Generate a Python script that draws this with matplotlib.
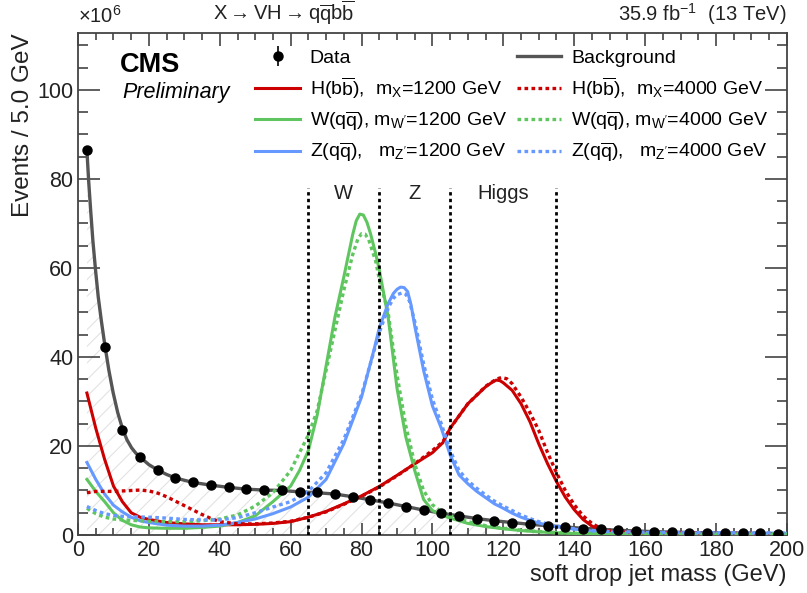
import numpy as np
import matplotlib
matplotlib.use("Agg")
import matplotlib.pyplot as plt
from matplotlib.ticker import MultipleLocator

plt.rcParams['font.family'] = ['Liberation Sans', 'DejaVu Sans']
plt.rcParams['mathtext.fontset'] = 'custom'
plt.rcParams['mathtext.rm'] = 'Liberation Sans'
plt.rcParams['mathtext.it'] = 'Liberation Sans:italic'
plt.rcParams['mathtext.bf'] = 'Liberation Sans:bold'
plt.rcParams['hatch.linewidth'] = 0.8

# ---- data (events in units of 10^6) ----
data_mass = np.arange(2.5, 200, 5.0)
data_events = [86.5, 42.3, 23.6, 17.6, 14.6, 12.7, 11.8, 11.2, 10.7, 10.3,
               10.1, 10.0, 9.7, 9.6, 9.2, 8.6, 7.9, 7.3, 6.4, 5.6,
               4.9, 4.3, 3.7, 3.2, 2.8, 2.4, 2.1, 1.9, 1.4, 1.3,
               1.05, 0.9, 0.75, 0.65, 0.55, 0.5, 0.45, 0.4, 0.35, 0.3]

bkg_mass = [2.5, 3.0, 3.6, 4.2, 5.0, 5.7, 6.6, 7.5, 8.7, 9.9, 11.2, 12.5, 13.8,
            15.1, 16.3, 17.5, 20.0, 22.5, 25.0, 27.5, 30.0, 32.5, 37.5,
            42.5, 47.5, 52.5, 57.5, 62.5, 67.5, 72.5, 77.5, 82.5, 87.5, 92.5,
            97.5, 102.5, 107.5, 112.5, 117.5, 122.5, 127.5, 132.5, 137.5, 142.5,
            147.5, 152.5, 157.5, 162.5, 167.5, 172.5, 177.5, 182.5, 187.5, 192.5, 197.5]
bkg_events = [86.5, 79.5, 72.5, 66.0, 59.0, 53.5, 48.0, 43.0, 37.0, 32.0, 27.5, 24.0,
              21.4, 19.6, 18.4, 17.5, 15.8, 14.6, 13.6, 12.8, 12.3, 11.8, 11.2,
              10.7, 10.3, 10.1, 10.0, 9.7, 9.5, 9.2, 8.6, 7.9, 7.2, 6.4,
              5.6, 4.9, 4.3, 3.7, 3.2, 2.8, 2.4, 2.1, 1.8, 1.5,
              1.3, 1.05, 0.9, 0.75, 0.65, 0.55, 0.5, 0.45, 0.4, 0.35, 0.3]

h1200_mass = [2.5, 5, 7.5, 10, 12.5, 15, 17.5, 20, 25, 30, 35, 40, 45, 50, 55, 60, 65,
              70, 75, 80, 85, 90, 95, 100, 103, 105, 110, 115, 117, 118, 119, 120,
              122.5, 125, 127.5, 130, 132.5, 135, 137.5, 140, 142.5, 145, 147.5, 150,
              155, 160, 170, 180, 190, 197.5]
h1200_events = [31.9, 24.0, 17.0, 11.0, 7.5, 5.0, 4.0, 3.5, 2.8, 2.5, 2.3, 2.3, 2.3,
                2.4, 2.6, 3.0, 4.0, 5.3, 7.0, 8.8, 10.9, 13.4, 16.0, 18.5, 20.8, 24.0,
                29.5, 33.3, 34.4, 34.8, 34.7, 34.2, 32.5, 29.5, 25.5, 20.5, 16.0, 12.0,
                8.5, 5.7, 3.5, 2.0, 1.2, 0.8, 0.6, 0.5, 0.45, 0.4, 0.35, 0.3]

h4000_mass = [2.5, 5, 7.5, 10, 12.5, 15, 17.5, 20, 22.5, 25, 27.5, 30, 32.5, 35, 37.5,
              40, 45, 50, 55, 60, 65, 70, 75, 80, 85, 90, 95, 100, 103, 105, 110, 115,
              118, 119.5, 121, 122.5, 125, 127.5, 130, 132.5, 135, 137.5, 140, 142.5,
              145, 147.5, 150, 155, 160, 170, 180, 190, 197.5]
h4000_events = [9.5, 9.8, 9.8, 9.8, 9.9, 10.0, 10.1, 9.9, 9.4, 8.6, 7.6, 6.6, 5.6,
                4.6, 3.7, 3.0, 2.5, 2.5, 2.7, 3.1, 4.0, 5.2, 6.9, 8.7, 10.8, 13.3,
                16.0, 19.0, 21.0, 24.0, 29.5, 33.4, 35.0, 35.4, 35.1, 34.0, 31.0,
                27.5, 23.5, 18.5, 14.0, 10.0, 6.8, 4.3, 2.6, 1.5, 0.9, 0.6, 0.5,
                0.45, 0.4, 0.35, 0.3]

w1200_mass = [2.5, 5, 7.5, 10, 12.5, 15, 17.5, 20, 25, 30, 35, 40, 45, 50, 55, 60,
              62.5, 65, 67.5, 70, 72.5, 75, 77.5, 78.5, 79.5, 80.5, 81.5, 82.5, 84,
              85, 87.5, 90, 92.5, 95, 97.5, 100, 102.5, 105, 110, 115, 120, 125, 130,
              135, 140, 150, 160, 200]
w1200_events = [12.5, 9.8, 7.5, 5.0, 3.3, 2.3, 1.8, 1.6, 1.5, 1.5, 1.7, 2.0, 2.8,
                4.3, 7.5, 11.0, 14.5, 19.0, 27.0, 38.0, 49.0, 58.0, 67.5, 70.6, 72.1,
                71.9, 70.3, 67.8, 63.2, 59.6, 49.0, 33.0, 22.0, 14.5, 8.0, 5.5, 4.5,
                3.8, 2.6, 1.9, 1.4, 1.0, 0.7, 0.5, 0.35, 0.25, 0.2, 0.15]

w4000_mass = [2.5, 5, 7.5, 10, 12.5, 15, 20, 25, 30, 35, 40, 45, 50, 55, 60, 65,
              67.5, 70, 72.5, 75, 77.5, 79, 80, 81, 82, 84, 85, 87.5, 90, 92.5, 95,
              97.5, 100, 102.5, 105, 110, 115, 120, 125, 130, 135, 140, 150, 160, 200]
w4000_events = [6.0, 4.8, 4.0, 3.6, 3.4, 3.3, 3.1, 3.0, 3.0, 3.2, 3.6, 4.5, 6.5,
                9.5, 14.5, 22.5, 28.0, 37.0, 46.0, 55.0, 63.0, 66.6, 67.7, 67.6,
                66.4, 61.5, 57.5, 50.0, 36.0, 24.5, 16.0, 10.0, 6.8, 5.2, 4.3, 3.0,
                2.1, 1.5, 1.1, 0.8, 0.55, 0.4, 0.3, 0.25, 0.2]

z1200_mass = [2.5, 5, 7.5, 10, 12.5, 15, 17.5, 20, 25, 30, 35, 40, 45, 50, 55, 60,
              65, 70, 75, 80, 83.5, 85, 87.5, 89, 90, 91, 92, 93, 94, 95, 97.5, 100,
              102.5, 105, 107.5, 110, 112.5, 115, 117.5, 120, 122.5, 125, 127.5, 130,
              132.5, 135, 140, 145, 150, 160, 170, 180, 200]
z1200_events = [16.3, 12.5, 9.2, 6.7, 5.2, 4.0, 3.2, 2.8, 2.2, 2.0, 2.0, 2.2, 2.8,
                3.6, 4.8, 6.3, 8.5, 12.5, 20.5, 31.0, 41.6, 46.5, 52.0, 54.3, 55.2,
                55.7, 55.6, 54.7, 51.6, 47.0, 37.0, 29.0, 24.0, 18.0, 13.5, 11.5, 9.8,
                8.4, 7.0, 6.0, 4.9, 4.0, 3.3, 2.7, 2.2, 1.9, 1.3, 0.9, 0.7, 0.55, 0.5,
                0.45, 0.4]

z4000_mass = [2.5, 5, 7.5, 10, 12.5, 15, 20, 25, 30, 35, 40, 45, 50, 55, 60, 65, 70,
              75, 80, 85, 87.5, 89, 90, 91.5, 92.5, 93.5, 95, 97.5, 100, 102.5, 105,
              107.5, 110, 112.5, 115, 117.5, 120, 122.5, 125, 127.5, 130, 132.5, 135,
              140, 145, 150, 160, 200]
z4000_events = [6.4, 5.5, 4.8, 4.4, 4.2, 4.1, 4.0, 3.8, 3.5, 3.4, 3.4, 3.9, 5.0,
                6.3, 7.5, 9.8, 14.0, 21.5, 31.5, 45.5, 51.0, 53.2, 54.0, 54.4, 54.1,
                52.6, 48.0, 38.5, 30.5, 25.0, 19.0, 14.5, 12.2, 10.5, 9.0, 7.6, 6.5,
                5.5, 4.5, 3.7, 3.0, 2.5, 2.0, 1.4, 1.0, 0.8, 0.6, 0.45]

window_edges = [65, 85, 105, 135]
window_labels = ["W", "Z", "Higgs"]
window_centers = [75, 95, 120]

red, green, blue, gray = '#cc0000', '#5fc65f', '#6699ff', '#555555'
dotted = (0, (1.1, 1.0))

fig = plt.figure(figsize=(8.07, 5.93), dpi=100)
ax = fig.add_axes([0.0967, 0.0978, 0.8783, 0.8466])

ax.fill_between(bkg_mass, 0, bkg_events, facecolor='none', edgecolor='#e2e2e2',
                hatch='//', linewidth=0)
bkg_handle, = ax.plot(bkg_mass, bkg_events, color=gray, lw=2.4, label='Background',
                      zorder=3)

lh1, = ax.plot(h1200_mass, h1200_events, color=red, lw=2.2, zorder=4,
               label=r'H($\mathrm{b\overline{b}}$),  m$_{\mathrm{X}}$=1200 GeV')
lw1, = ax.plot(w1200_mass, w1200_events, color=green, lw=2.2, zorder=4,
               label=r"W($\mathrm{q\overline{q}}$), m$_{\mathrm{W'}}$=1200 GeV")
lz1, = ax.plot(z1200_mass, z1200_events, color=blue, lw=2.2, zorder=4,
               label=r"Z($\mathrm{q\overline{q}}$),   m$_{\mathrm{Z'}}$=1200 GeV")
lh4, = ax.plot(h4000_mass, h4000_events, color=red, lw=2.4, ls=dotted, zorder=4,
               label=r'H($\mathrm{b\overline{b}}$),  m$_{\mathrm{X}}$=4000 GeV')
lw4, = ax.plot(w4000_mass, w4000_events, color=green, lw=2.4, ls=dotted, zorder=4,
               label=r"W($\mathrm{q\overline{q}}$), m$_{\mathrm{W'}}$=4000 GeV")
lz4, = ax.plot(z4000_mass, z4000_events, color=blue, lw=2.4, ls=dotted, zorder=4,
               label=r"Z($\mathrm{q\overline{q}}$),   m$_{\mathrm{Z'}}$=4000 GeV")

data = ax.errorbar(data_mass, data_events, yerr=0.0, fmt='o', color='black',
                   ms=6.5, elinewidth=1.2, zorder=6, label='Data')

for xe in window_edges:
    ax.plot([xe, xe], [0, 78], color='black', lw=2.0, ls=(0, (1.2, 1.2)), zorder=5)
for xc, lab in zip(window_centers, window_labels):
    ax.text(xc, 76.8, lab, ha='center', va='center', fontsize=14.5, color='#222222')

handles = [data, lh1, lw1, lz1, bkg_handle, lh4, lw4, lz4]
ax.legend(handles=handles, labels=[h.get_label() for h in handles], ncol=2,
          loc='upper right', bbox_to_anchor=(0.99, 0.991), frameon=False,
          fontsize=14, handlelength=2.3, handletextpad=0.5, columnspacing=0.5,
          labelspacing=0.42, borderaxespad=0.2)

ax.text(0.059, 0.936, 'CMS', transform=ax.transAxes, fontsize=19.5, fontweight='bold',
        va='center', ha='left')
ax.text(0.062, 0.882, 'Preliminary', transform=ax.transAxes, fontsize=15.5,
        style='italic', va='center', ha='left')

ax.text(0.0, 1.012, r'$\times$10$^{6}$', transform=ax.transAxes, fontsize=14.5,
        ha='left', va='bottom', color='#222222')
ax.text(0.29, 1.012, r'X$\rightarrow$VH$\rightarrow$q$\mathrm{\overline{q}}$b$\mathrm{\overline{b}}$',
        transform=ax.transAxes, fontsize=14.5, ha='center', va='bottom', color='#222222')
ax.text(1.0, 1.012, r'35.9 fb$^{\mathrm{-1}}$  (13 TeV)', transform=ax.transAxes,
        fontsize=14.5, ha='right', va='bottom', color='#222222')

ax.set_xlim(0, 200)
ax.set_ylim(0, 112.8)
ax.set_xlabel('soft drop jet mass (GeV)', loc='right', fontsize=17, color='#222222',
              labelpad=2)
ax.set_ylabel('Events / 5.0 GeV', loc='top', fontsize=17.5, color='#222222',
              labelpad=2)

ax.xaxis.set_major_locator(MultipleLocator(20))
ax.xaxis.set_minor_locator(MultipleLocator(5))
ax.yaxis.set_major_locator(MultipleLocator(20))
ax.yaxis.set_minor_locator(MultipleLocator(5))
ax.tick_params(axis='both', which='both', direction='in', top=True, right=True,
               colors='#444444', labelcolor='#222222', labelsize=15.5, width=1.2)
ax.tick_params(axis='x', which='major', length=9)
ax.tick_params(axis='x', which='minor', length=5)
ax.tick_params(axis='y', which='major', length=16)
ax.tick_params(axis='y', which='minor', length=7.5)
for s in ax.spines.values():
    s.set_color('#444444')
    s.set_linewidth(1.3)

fig.savefig('out.png', dpi=100)
